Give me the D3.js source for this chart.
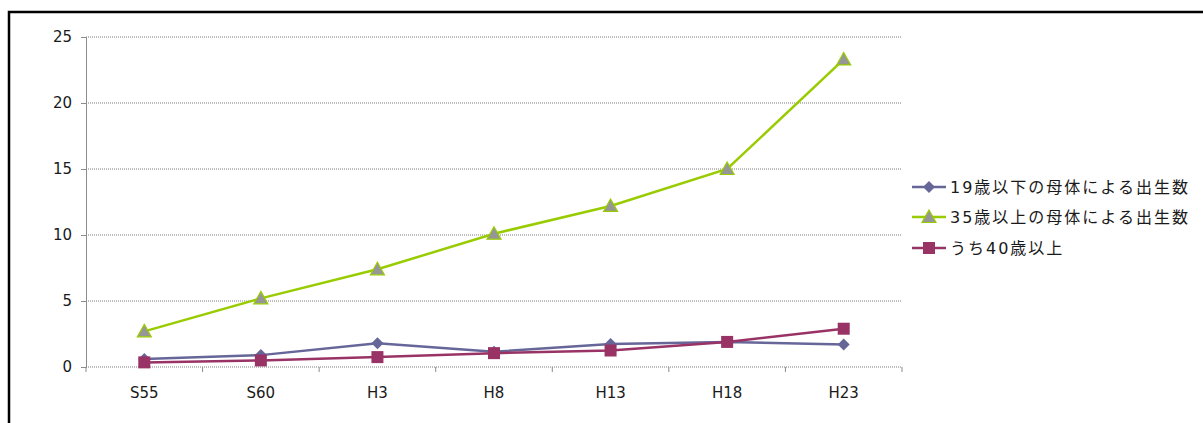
<!DOCTYPE html>
<html>
<head>
<meta charset="utf-8">
<script src="https://cdn.jsdelivr.net/npm/d3@7"></script>
<style>
  body { margin: 0; background: #fff; }
  svg text { font-family: "DejaVu Sans", "Noto Sans CJK JP", sans-serif; fill: #1a1a1a; }
</style>
</head>
<body>
<svg id="chart" width="1203" height="423"></svg>
<script>
let categories = ["S55", "S60", "H3", "H8", "H13", "H18", "H23"]
let under19 = [0.6, 0.9, 1.8, 1.15, 1.75, 1.9, 1.7]
let over35 = [2.7, 5.2, 7.4, 10.1, 12.2, 15.0, 23.3]
let over40 = [0.35, 0.5, 0.75, 1.05, 1.25, 1.9, 2.9]
let yTicks = [0, 5, 10, 15, 20, 25]

let series = [
    { name: "19歳以下の母体による出生数", values: under19, color: "#666699", marker: "diamond" },
    { name: "35歳以上の母体による出生数", values: over35, color: "#99cc00", marker: "triangle" },
    { name: "うち40歳以上", values: over40, color: "#993366", marker: "square" }
]

let svg = d3.select("#chart")

// outer frame (only left + top edges are visible)
svg.append("path").attr("d", "M9,423V12H1203")
    .attr("fill", "none").attr("stroke", "#000").attr("stroke-width", 2.5)

let plot = { left: 86, right: 902, top: 37, bottom: 367 }

let x = d3.scaleBand().domain(categories).range([plot.left, plot.right])
let y = d3.scaleLinear().domain([0, 25]).range([plot.bottom, plot.top])

// grid
svg.append("g").selectAll("line").data(yTicks.slice(1)).join("line")
    .attr("x1", plot.left).attr("x2", plot.right)
    .attr("y1", (d) => y(d)).attr("y2", (d) => y(d))
    .attr("stroke", "#7a7a7a").attr("stroke-dasharray", "1,1")

// y axis
let yAxis = svg.append("g").attr("transform", `translate(${plot.left},0)`)
    .call(d3.axisLeft(y).tickValues(yTicks).tickSize(5).tickPadding(9))
yAxis.select(".domain").attr("stroke", "#8c8c8c")
yAxis.selectAll(".tick line").attr("stroke", "#8c8c8c")
yAxis.selectAll("text").attr("font-size", 15)

// x axis: ticks on category boundaries
let xAxis = svg.append("g").attr("transform", `translate(0,${plot.bottom})`)
xAxis.append("line").attr("x1", plot.left).attr("x2", plot.right)
    .attr("stroke", "#7a7a7a").attr("stroke-dasharray", "1,1")
let bounds = categories.map((c) => x(c)).concat([plot.right])
xAxis.selectAll(".btick").data(bounds).join("line").attr("class", "btick")
    .attr("x1", (d) => d).attr("x2", (d) => d).attr("y1", 0).attr("y2", 5)
    .attr("stroke", "#8c8c8c")
xAxis.selectAll("text").data(categories).join("text")
    .attr("x", (d) => x(d) + x.bandwidth() / 2).attr("y", 31)
    .attr("text-anchor", "middle").attr("font-size", 15).text((d) => d)

let cx = (i) => x(categories[i]) + x.bandwidth() / 2
let line = d3.line().x((d, i) => cx(i)).y((d) => y(d))

function drawMarker(g, type, color, px, py) {
    if (type == "diamond") {
        g.append("path").attr("d", `M${px},${py - 6}L${px + 6},${py}L${px},${py + 6}L${px - 6},${py}Z`)
            .attr("fill", color)
    } else if (type == "square") {
        g.append("rect").attr("x", px - 6).attr("y", py - 6).attr("width", 12).attr("height", 12)
            .attr("fill", color)
    } else {
        g.append("path").attr("d", `M${px},${py - 7}L${px + 7},${py + 5.5}L${px - 7},${py + 5.5}Z`)
            .attr("fill", "#969696").attr("stroke", color).attr("stroke-width", 1.2)
    }
}

for (let s of series) {
    let g = svg.append("g")
    g.append("path").datum(s.values).attr("d", line)
        .attr("fill", "none").attr("stroke", s.color).attr("stroke-width", 2.5)
    s.values.forEach((v, i) => drawMarker(g, s.marker, s.color, cx(i), y(v)))
}

// legend
let legendY = [187, 217, 248]
series.forEach((s, i) => {
    let g = svg.append("g")
    g.append("line").attr("x1", 912).attr("x2", 946).attr("y1", legendY[i]).attr("y2", legendY[i])
        .attr("stroke", s.color).attr("stroke-width", 2.5)
    drawMarker(g, s.marker, s.color, 929, legendY[i])
    g.append("text").attr("x", 950).attr("y", legendY[i] + 6).attr("font-size", 16)
        .attr("letter-spacing", 2).text(s.name)
})
</script>
</body>
</html>
